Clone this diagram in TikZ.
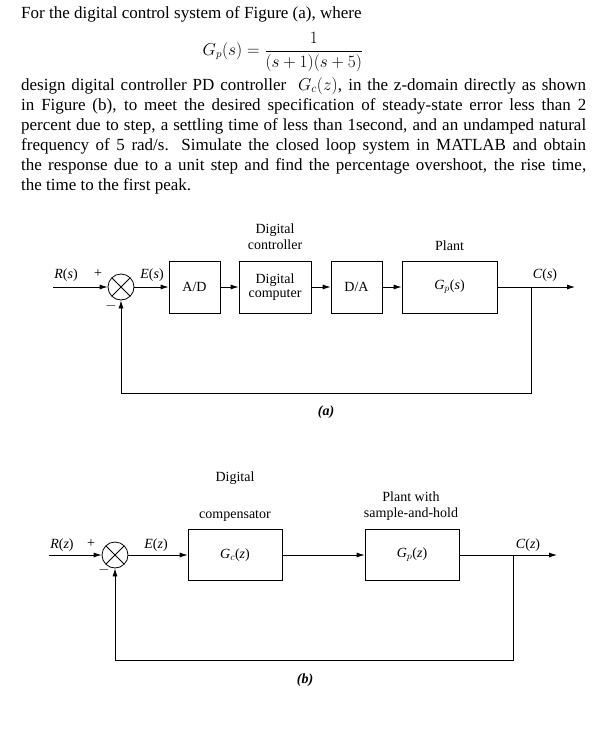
\documentclass[tikz,border=0pt]{standalone}
\usepackage{amsmath}
\usepackage{fontspec}
\setmainfont{Liberation Serif}
\usetikzlibrary{arrows.meta}
\newcommand\jline[1]{\makebox[565pt][s]{#1}}
\tikzset{
  txt/.style={anchor=west, inner sep=0pt, font=\fontsize{17}{20}\selectfont},
  lbl/.style={inner sep=0pt, font=\fontsize{14}{15}\selectfont},
  blk/.style={draw, thick, inner sep=0pt, font=\fontsize{14}{15}\selectfont},
  sum/.style={draw, thick, circle, minimum size=26pt, inner sep=0pt, path picture={
      \draw ([shift={(-9pt,-9pt)}]path picture bounding box.center) -- ([shift={(9pt,9pt)}]path picture bounding box.center);
      \draw ([shift={(-9pt,9pt)}]path picture bounding box.center) -- ([shift={(9pt,-9pt)}]path picture bounding box.center);}},
  sig/.style={thick, -{Latex[length=8pt,width=5pt]}}
}
\begin{document}
\begin{tikzpicture}[x=1pt,y=-1pt]
\useasboundingbox (0,0) rectangle (605,736);
% problem text
\node[txt] (l1) at (21,14) {For the digital control system of Figure (a), where};
\node[inner sep=0pt, font=\fontsize{16}{20}\selectfont] (eq) at (283,52) {$G_p(s)=\dfrac{1}{(s+1)(s+5)}$};
\node[txt] (l2) at (21,86) {\jline{design digital controller PD controller \ $G_c(z)$, in the z-domain directly as shown}};
\node[txt] (l3) at (21,106) {\jline{in Figure (b), to meet the desired specification of steady-state error less than 2}};
\node[txt] (l4) at (21,126) {\jline{percent due to step, a settling time of less than 1second, and an undamped natural}};
\node[txt] (l5) at (21,146) {\jline{frequency of 5 rad/s. Simulate the closed loop system in MATLAB and obtain}};
\node[txt] (l6) at (21,166) {\jline{the response due to a unit step and find the percentage overshoot, the rise time,}};
\node[txt] (l7) at (21,186) {the time to the first peak.};

% figure (a)
\coordinate (ain) at (53,287);
\node[sum] (as) at (121,287) {};
\node[blk, minimum width=51pt, minimum height=52pt] (ad) at (194.5,287) {A/D};
\node[blk, minimum width=72pt, minimum height=52pt, align=center] (dc) at (275,287) {Digital\\[-1pt]computer};
\node[blk, minimum width=51pt, minimum height=52pt] (da) at (356.5,287) {D/A};
\node[blk, minimum width=95pt, minimum height=52pt] (gp) at (449.5,287) {\textit{G}$_p$(\textit{s})};
\coordinate (abr) at (531,287);
\coordinate (aout) at (575,287);
\coordinate (afb) at (531,393);
\coordinate (afs) at (121,393);
\draw[sig] (ain) -- (as);
\draw[sig] (as) -- (ad);
\draw[sig] (ad) -- (dc);
\draw[sig] (dc) -- (da);
\draw[sig] (da) -- (gp);
\draw[sig] (gp) -- (aout);
\draw[sig] (abr) -- (afb) -- (afs) -- (as);
\node[lbl] (ar) at (66,275) {\textit{R}(\textit{s})};
\node[lbl] (ap) at (98,274) {+};
\node[lbl] (am) at (111,306) {$-$};
\node[lbl] (ae) at (152,275) {\textit{E}(\textit{s})};
\node[lbl] (ac) at (545,275) {\textit{C}(\textit{s})};
\node[lbl, align=center] (adc) at (275,237) {Digital\\[1pt]controller};
\node[lbl] (apl) at (449.5,246) {Plant};
\node[lbl] (acap) at (326,412) {\textbf{\textit{(a)}}};

% figure (b)
\coordinate (bin) at (49,555);
\node[sum] (bs) at (115,555) {};
\node[blk, minimum width=94pt, minimum height=51pt] (gc) at (235,555) {\textit{G}$_c$(\textit{z})};
\node[blk, minimum width=94pt, minimum height=51pt] (gpz) at (412,555) {\textit{G}$_p$(\textit{z})};
\coordinate (bbr) at (513,555);
\coordinate (bout) at (557,555);
\coordinate (bfb) at (513,660);
\coordinate (bfs) at (115,660);
\draw[sig] (bin) -- (bs);
\draw[sig] (bs) -- (gc);
\draw[sig] (gc) -- (gpz);
\draw[sig] (gpz) -- (bout);
\draw[sig] (bbr) -- (bfb) -- (bfs) -- (bs);
\node[lbl] (br) at (62,545) {\textit{R}(\textit{z})};
\node[lbl] (bp) at (91,544) {+};
\node[lbl] (bm) at (104,570) {$-$};
\node[lbl] (be) at (156,545) {\textit{E}(\textit{z})};
\node[lbl] (bc) at (528,545) {\textit{C}(\textit{z})};
\node[lbl] (bdg) at (235,478) {Digital};
\node[lbl] (bcp) at (235,516) {compensator};
\node[lbl, align=center] (bpl) at (411,506) {Plant with\\[1pt]sample-and-hold};
\node[lbl] (bcap) at (305,680) {\textbf{\textit{(b)}}};
\end{tikzpicture}
\end{document}
